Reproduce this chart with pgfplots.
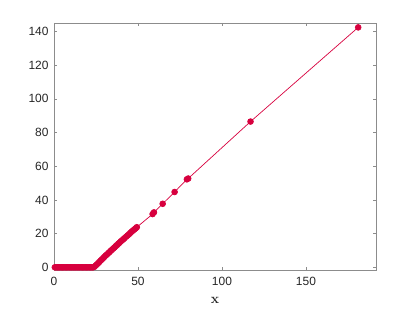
\documentclass[border=0pt]{standalone}
\usepackage{fontspec}
\usepackage{pgfplots}
\pgfplotsset{compat=1.18}
\newfontfamily\arial{Liberation Sans}
\definecolor{crim}{RGB}{215,0,62}
\definecolor{axgray}{RGB}{38,38,38}
\begin{document}
\begin{tikzpicture}
\begin{axis}[
  scale only axis,
  width=322bp, height=247bp,
  xmin=0, xmax=191.7, ymin=-1.6, ymax=145,
  xtick={0,50,100,150}, ytick={0,20,40,60,80,100,120,140},
  tick align=inside,
  major tick length=3bp,
  axis line style={draw=black!45, line width=0.6pt},
  every tick/.style={black!45, line width=0.6pt},
  /pgf/number format/assume math mode=true,
  ticklabel style={font=\arial\fontsize{12}{14}\selectfont, text=axgray},
  xticklabel style={yshift=-3.5bp},
  yticklabel style={xshift=-2bp},
  xlabel={x},
  xlabel style={font=\bfseries\fontsize{14}{16}\selectfont, text=axgray, yshift=-5bp},
]
\addplot[color=crim, line width=0.7pt, mark=*, mark size=2.9bp, mark options={fill=crim, draw=crim}] coordinates {
(0.5,0)(1.2,0)(2,0)(2.8,0)(3.5,0)(4.3,0)(5,0)(5.8,0)(6.6,0)(7.4,0)(8.2,0)(9,0)(9.8,0)(10.6,0)(11.4,0)(12.2,0)(13,0)(13.8,0)(14.6,0)(15.4,0)(16.2,0)(17,0)(17.8,0)(18.6,0)(19.4,0)(20.2,0)(21,0)(21.8,0)(22.6,0)(23.3,0)
(24,0.3)(24.8,1)(25.5,1.7)(26.3,2.5)(27,3.2)(27.8,4)(28.5,4.7)(29.3,5.5)(30,6.2)(30.8,7)(31.5,7.6)(32.3,8.4)(33,9)(33.8,9.8)(34.5,10.4)(35.3,11.2)(36,11.8)(36.8,12.6)(37.5,13.2)(38.3,14)(39,14.6)(39.8,15.4)(40.5,16)(41.3,16.7)(42,17.3)(43,18.2)(43.8,18.9)(44.6,19.6)(45.4,20.4)(46.2,21.1)(47,21.8)(47.8,22.5)(48.6,23.1)(49.3,23.8)
(58.7,31.6)(59.5,32.6)(64.7,37.7)(71.8,44.7)(79.1,52.2)(79.9,52.7)(117,86.5)(181.1,142.4)
};
\end{axis}
\pgfresetboundingbox
\path[use as bounding box] (current axis.south west) ++(-54bp,-42bp) rectangle ([shift={(39bp,23bp)}]current axis.north east);
\end{tikzpicture}
\end{document}
